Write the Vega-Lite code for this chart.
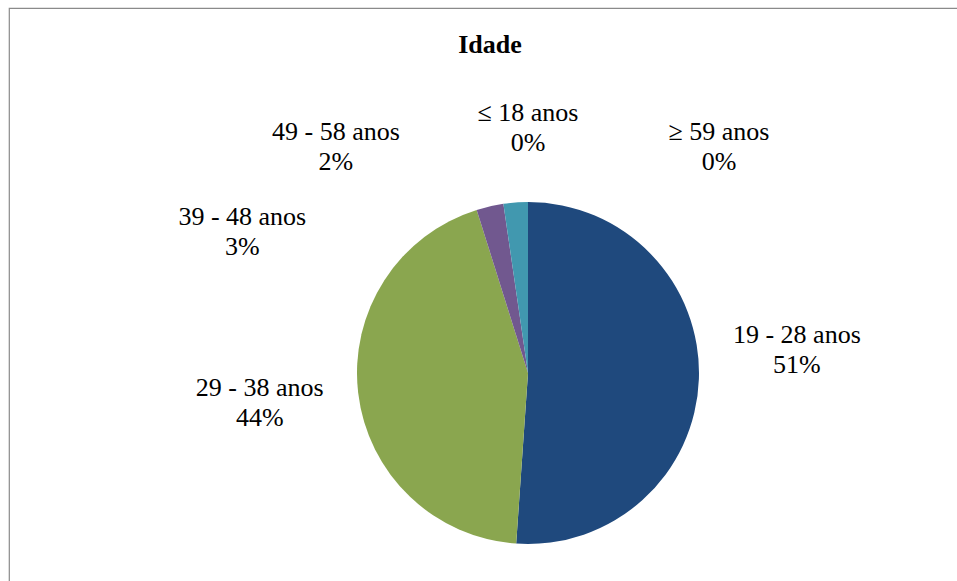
{
  "$schema": "https://vega.github.io/schema/vega-lite/v6.json",
  "width": 1038,
  "height": 730,
  "autosize": {"type": "none"},
  "padding": {"left": 9, "top": 8, "right": 0, "bottom": 0},
  "background": "white",
  "view": {"stroke": "#8a8a8a", "strokeWidth": 1.2, "fill": "white"},
  "title": {
    "text": "Idade",
    "font": "Liberation Serif",
    "fontSize": 26,
    "fontWeight": "bold",
    "color": "black",
    "frame": "group",
    "anchor": "middle",
    "baseline": "alphabetic",
    "offset": -71,
    "dx": -38
  },
  "data": {
    "values": [
      {"faixa": "≤ 18 anos", "ordem": 1, "percentual": 0, "rotulo": "≤ 18 anos\n0%"},
      {"faixa": "19 - 28 anos", "ordem": 2, "percentual": 51.1, "rotulo": "19 - 28 anos\n51%"},
      {"faixa": "29 - 38 anos", "ordem": 3, "percentual": 44.05, "rotulo": "29 - 38 anos\n44%"},
      {"faixa": "39 - 48 anos", "ordem": 4, "percentual": 2.55, "rotulo": "39 - 48 anos\n3%"},
      {"faixa": "49 - 58 anos", "ordem": 5, "percentual": 2.3, "rotulo": "49 - 58 anos\n2%"},
      {"faixa": "≥ 59 anos", "ordem": 6, "percentual": 0, "rotulo": "≥ 59 anos\n0%"}
    ]
  },
  "encoding": {
    "theta": {"field": "percentual", "type": "quantitative", "stack": true},
    "order": {"field": "ordem", "type": "quantitative"}
  },
  "layer": [
    {
      "mark": {"type": "arc", "outerRadius": 171},
      "encoding": {
        "color": {
          "field": "faixa",
          "type": "nominal",
          "scale": {
            "domain": ["≤ 18 anos", "19 - 28 anos", "29 - 38 anos", "39 - 48 anos", "49 - 58 anos", "≥ 59 anos"],
            "range": ["#C0504D", "#1F497D", "#8AA64F", "#71588F", "#4198AF", "#DB843D"]
          },
          "legend": null
        }
      }
    },
    {
      "mark": {"type": "text", "radius": 250, "font": "Liberation Serif", "fontSize": 26, "lineBreak": "\n", "lineHeight": 30, "align": "center", "baseline": "alphabetic", "color": "black", "dx": 0, "dy": -2},
      "encoding": {
        "detail": {"field": "faixa", "type": "nominal"},
        "text": {"condition": {"test": "datum.faixa === '≤ 18 anos'", "field": "rotulo", "type": "nominal"}, "value": ""}
      }
    },
    {
      "mark": {"type": "text", "radius": 250, "font": "Liberation Serif", "fontSize": 26, "lineBreak": "\n", "lineHeight": 30, "align": "center", "baseline": "alphabetic", "color": "black", "dx": 19, "dy": -39},
      "encoding": {
        "detail": {"field": "faixa", "type": "nominal"},
        "text": {"condition": {"test": "datum.faixa === '19 - 28 anos'", "field": "rotulo", "type": "nominal"}, "value": ""}
      }
    },
    {
      "mark": {"type": "text", "radius": 250, "font": "Liberation Serif", "fontSize": 26, "lineBreak": "\n", "lineHeight": 30, "align": "center", "baseline": "alphabetic", "color": "black", "dx": -20, "dy": -6},
      "encoding": {
        "detail": {"field": "faixa", "type": "nominal"},
        "text": {"condition": {"test": "datum.faixa === '29 - 38 anos'", "field": "rotulo", "type": "nominal"}, "value": ""}
      }
    },
    {
      "mark": {"type": "text", "radius": 250, "font": "Liberation Serif", "fontSize": 26, "lineBreak": "\n", "lineHeight": 30, "align": "center", "baseline": "alphabetic", "color": "black", "dx": -230, "dy": 96},
      "encoding": {
        "detail": {"field": "faixa", "type": "nominal"},
        "text": {"condition": {"test": "datum.faixa === '39 - 48 anos'", "field": "rotulo", "type": "nominal"}, "value": ""}
      }
    },
    {
      "mark": {"type": "text", "radius": 250, "font": "Liberation Serif", "fontSize": 26, "lineBreak": "\n", "lineHeight": 30, "align": "center", "baseline": "alphabetic", "color": "black", "dx": -174, "dy": 16},
      "encoding": {
        "detail": {"field": "faixa", "type": "nominal"},
        "text": {"condition": {"test": "datum.faixa === '49 - 58 anos'", "field": "rotulo", "type": "nominal"}, "value": ""}
      }
    },
    {
      "mark": {"type": "text", "radius": 250, "font": "Liberation Serif", "fontSize": 26, "lineBreak": "\n", "lineHeight": 30, "align": "center", "baseline": "alphabetic", "color": "black", "dx": 191, "dy": 17},
      "encoding": {
        "detail": {"field": "faixa", "type": "nominal"},
        "text": {"condition": {"test": "datum.faixa === '≥ 59 anos'", "field": "rotulo", "type": "nominal"}, "value": ""}
      }
    }
  ],
  "config": {"view": {"stroke": "#8a8a8a", "strokeWidth": 1.2}}
}
